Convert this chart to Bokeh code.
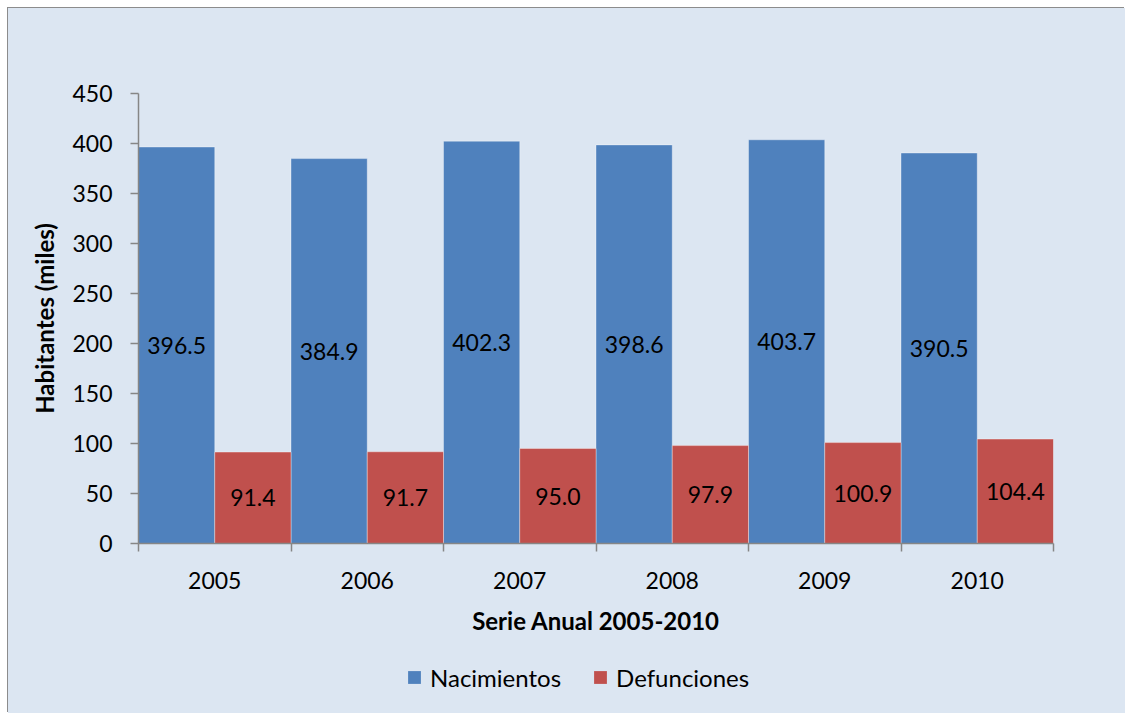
from bokeh.plotting import figure
from bokeh.layouts import column
from bokeh.models import Range1d, FixedTicker, Legend, LegendItem, ColumnDataSource
from bokeh.core.properties import value
from bokeh.embed import file_html
from bokeh.resources import INLINE

years = ["2005", "2006", "2007", "2008", "2009", "2010"]
nacimientos = [396.5, 384.9, 402.3, 398.6, 403.7, 390.5]
defunciones = [91.4, 91.7, 95.0, 97.9, 100.9, 104.4]
y_ticks = [0, 50, 100, 150, 200, 250, 300, 350, 400, 450]
series_names = ["Nacimientos", "Defunciones"]

FONT = "Lato"
BG = "#DCE6F2"
BLUE = "#4F81BD"
RED = "#C0504D"
GREY = "#868686"

idx = list(range(len(years)))
src_n = ColumnDataSource(dict(
    x=[i + 0.25 for i in idx], top=nacimientos,
    ym=[v / 2 for v in nacimientos], lab=["%.1f" % v for v in nacimientos]))
src_d = ColumnDataSource(dict(
    x=[i + 0.75 for i in idx], top=defunciones,
    ym=[v / 2 for v in defunciones], lab=["%.1f" % v for v in defunciones]))

p = figure(width=1117, height=633, output_backend="svg", toolbar_location=None,
           x_range=Range1d(0, len(years)), y_range=Range1d(0, 450),
           min_border_left=130, min_border_right=72, min_border_top=85,
           min_border_bottom=98)
p.background_fill_color = None
p.border_fill_color = BG
p.outline_line_color = None
p.grid.visible = False

p.vbar(x="x", top="top", width=0.5, source=src_n, fill_color=BLUE,
       line_color="white", line_alpha=0.35, line_width=1)
p.vbar(x="x", top="top", width=0.5, source=src_d, fill_color=RED,
       line_color="white", line_alpha=0.35, line_width=1)

for src in (src_n, src_d):
    p.text(x="x", y="ym", text="lab", source=src, text_align="center",
           text_baseline="middle", text_font=value(FONT),
           text_font_size="23px", text_color="#000000")

# y axis
ya = p.yaxis[0]
ya.ticker = FixedTicker(ticks=y_ticks)
ya.axis_line_color = GREY
ya.axis_line_width = 1.5
ya.major_tick_line_color = GREY
ya.major_tick_line_width = 1.5
ya.major_tick_out = 8
ya.major_tick_in = 0
ya.minor_tick_line_color = None
ya.major_label_standoff = 18
ya.major_label_text_font = FONT
ya.major_label_text_font_size = "23px"
ya.major_label_text_color = "#000000"
ya.axis_label = "Habitantes (miles)"
ya.axis_label_text_font = FONT
ya.axis_label_text_font_size = "24px"
ya.axis_label_text_font_style = "bold"
ya.axis_label_text_color = "#000000"
ya.axis_label_standoff = 10

# x axis
xa = p.xaxis[0]
xa.ticker = FixedTicker(ticks=[i + 0.5 for i in idx],
                        minor_ticks=list(range(len(years) + 1)))
xa.major_label_overrides = {i + 0.5: y for i, y in zip(idx, years)}
xa.axis_line_color = GREY
xa.axis_line_width = 1.5
xa.major_tick_line_color = None
xa.major_tick_out = 0
xa.major_tick_in = 0
xa.minor_tick_line_color = GREY
xa.minor_tick_line_width = 1.5
xa.minor_tick_out = 8
xa.minor_tick_in = 0
xa.major_label_standoff = 20
xa.major_label_text_font = FONT
xa.major_label_text_font_size = "23px"
xa.major_label_text_color = "#000000"
xa.axis_label = "Serie Anual 2005-2010"
xa.axis_label_text_font = FONT
xa.axis_label_text_font_size = "24px"
xa.axis_label_text_font_style = "bold"
xa.axis_label_text_color = "#000000"
xa.axis_label_standoff = 14

# legend strip: same series drawn into a range that keeps the bars out of view,
# so only the legend swatches and labels show
lf = figure(width=1117, height=72, output_backend="svg", toolbar_location=None,
            x_axis_location=None, y_axis_location=None,
            x_range=Range1d(0, len(years)), y_range=Range1d(1000, 1001),
            min_border=0)
lf.background_fill_color = None
lf.border_fill_color = BG
lf.outline_line_color = None
lf.grid.visible = False
lr1 = lf.vbar(x="x", top="top", width=0.5, source=src_n,
              fill_color=BLUE, line_color=None)
lr2 = lf.vbar(x="x", top="top", width=0.5, source=src_d,
              fill_color=RED, line_color=None)
legend = Legend(items=[LegendItem(label=series_names[0], renderers=[lr1]),
                       LegendItem(label=series_names[1], renderers=[lr2])],
                orientation="horizontal", location=(268, 0),
                margin=0, padding=0, spacing=31, label_standoff=8,
                glyph_width=16, glyph_height=16, label_height=72,
                border_line_color=None, background_fill_alpha=0,
                label_text_font=FONT, label_text_font_size="24px",
                label_text_color="#000000")
lf.add_layout(legend)

layout = column(p, lf, spacing=0)
layout.margin = (8, 0, 0, 8)
layout.styles = {"box-shadow": "-1px -1px 0 0 #8c8c8c", "background-color": BG}

open("out.html", "w").write(file_html(layout, INLINE))
